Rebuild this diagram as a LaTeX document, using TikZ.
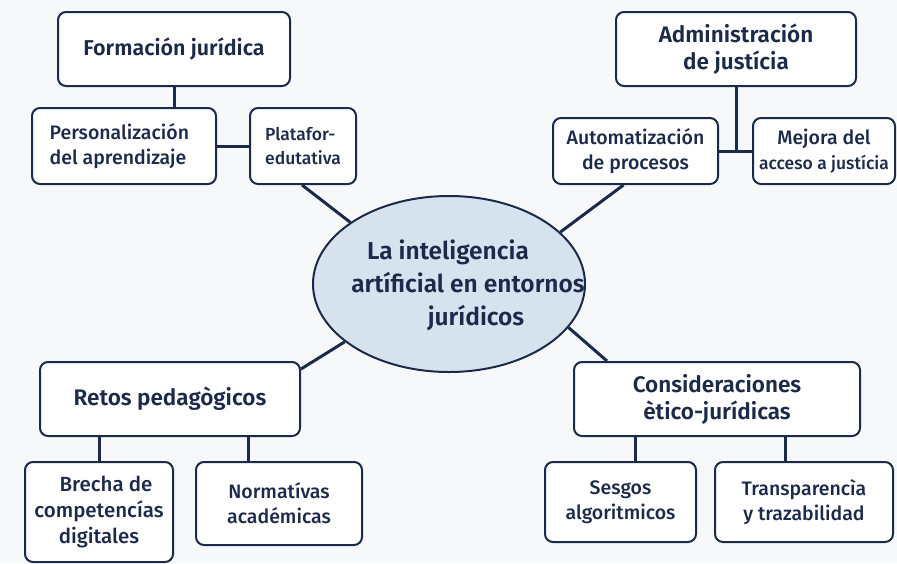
\documentclass[tikz,border=0pt]{standalone}
\usepackage{fontspec}
\setmainfont{Fira Sans}
\newfontfamily\medfont{Fira Sans Medium}
\newfontfamily\sbfont{Fira Sans SemiBold}
\usetikzlibrary{shapes.geometric}
\definecolor{navy}{HTML}{1C2A4A}
\definecolor{bgc}{HTML}{F7F8FA}
\definecolor{ellfill}{HTML}{D7E2EF}
\begin{document}
\begin{tikzpicture}[x=1pt,y=-1pt,
  box/.style={draw=navy, line width=2pt, rounded corners=8pt, fill=white, text=navy, align=center, inner sep=0pt},
  conn/.style={draw=navy, line width=3pt},
  big/.style={font=\fontsize{22.5}{27}\sbfont},
  mid/.style={font=\fontsize{19.5}{25}\medfont},
  lbl/.style={text=navy, align=center, inner sep=0pt}]
\fill[bgc] (0,0) rectangle (897,563);
\useasboundingbox (0,0) rectangle (897,563);
% central
\node[ellipse, draw=navy, line width=2pt, fill=ellfill, minimum width=272pt, minimum height=176pt, inner sep=0pt] (ell) at (449,284) {};
\node[lbl, font=\fontsize{24.5}{33}\sbfont] (elltxt) at (468,285) {La inteligencia\hspace*{40pt}\\artíficial en entornos\\\hspace*{16pt}jurídicos};
% top left
\node[box, font=\fontsize{21.5}{27}\sbfont, minimum width=232pt, minimum height=74pt] (form) at (174,49) {Formación jurídica};
\node[box, mid, align=left, minimum width=184pt, minimum height=76pt] (pers) at (124,146) {Personalización\\del aprendizaje\hspace*{12pt}};
\node[box, align=left, minimum width=106pt, minimum height=76pt, font=\fontsize{17.5}{24}\medfont] (plat) at (303,146) {Platafor-\\edutativa};
% top right
\node[box, big, minimum width=240pt, minimum height=74pt] (adm) at (736,49) {Administración\\de justícia};
\node[box, mid, minimum width=165pt, minimum height=66pt] (auto) at (635.5,151) {Automatización\\de procesos};
\node[box, mid, minimum width=142pt, minimum height=66pt] (mej) at (824,151) {Mejora del\\{\fontsize{17.5}{24}\medfont acceso a justícia}};
% bottom left
\node[box, big, minimum width=260pt, minimum height=74pt] (ret) at (170,399) {Retos pedagògicos};
\node[box, font=\fontsize{20.5}{26}\medfont, minimum width=148pt, minimum height=100pt] (bre) at (99,512) {\hspace*{14pt}Brecha de\\competencías\\digitales};
\node[box, mid, minimum width=166pt, minimum height=83pt] (nor) at (279,503.5) {Normatívas\\académicas};
% bottom right
\node[box, big, minimum width=286pt, minimum height=74pt] (con) at (717,399) {Consideraciones\\ètico-jurídicas};
\node[box, mid, minimum width=151pt, minimum height=80pt] (ses) at (620.5,502) {Sesgos\\algoritmicos};
\node[box, mid, minimum width=178pt, minimum height=80pt] (tra) at (804,502) {Transparencìa\\y trazabilidad};
% connectors
\draw[conn] (form.south) -- (form.south |- pers.north);
\draw[conn] (pers.east) -- (plat.west);
\draw[conn] ([xshift=-1pt]plat.south) -- (ell.148);
\draw[conn] (adm.south) -- (adm.south |- auto.east);
\draw[conn] (auto.east) -- (mej.west);
\draw[conn] ([xshift=-12pt]auto.south) -- (ell.25);
\draw[conn] ([yshift=-8pt]ret.north east) -- (ell.209);
\draw[conn] (bre.north) -- (bre.north |- ret.south);
\coordinate (nt) at ([xshift=-31pt]nor.north);
\draw[conn] (nt) -- (nt |- ret.south);
\draw[conn] ([xshift=34pt]con.north west) -- (ell.340);
\coordinate (st) at ([xshift=14.5pt]ses.north);
\draw[conn] (st) -- (st |- con.south);
\coordinate (tt) at ([xshift=-19pt]tra.north);
\draw[conn] (tt) -- (tt |- con.south);
\end{tikzpicture}
\end{document}
